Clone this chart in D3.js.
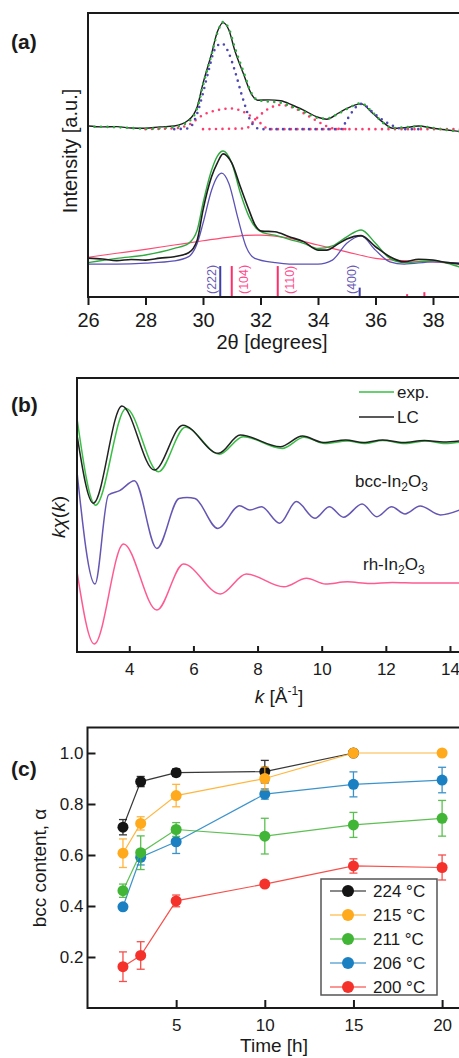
<!DOCTYPE html>
<html>
<head>
<meta charset="utf-8">
<script src="https://cdn.jsdelivr.net/npm/d3@7"></script>
<style>
body { margin: 0; background: #fff; }
svg text { font-family: "Liberation Sans", Arial, sans-serif; fill: #1a1a1a; }
</style>
</head>
<body>
<div id="chart-area"></div>
<script>
// ---------- (a) XRD, 2theta vs intensity (arb. units 0..100) ----------
const xrdTopExp = [[26,60.2],[26.5,59.9],[27,60.0],[27.5,59.5],[28,59.4],[28.5,59.9],[29,60.2],[29.5,62.3],[29.8,67.0],[30,75.2],[30.3,85.8],[30.5,93.4],[30.7,96.6],[30.9,94.0],[31.1,87.0],[31.4,78.8],[31.7,71.2],[31.9,69.3],[32.3,69.4],[32.7,69.1],[33.1,67.6],[33.5,65.8],[34,63.3],[34.3,62.6],[34.7,64.7],[35,66.4],[35.5,68.0],[35.9,64.7],[36.3,61.2],[36.6,59.4],[37,59.6],[37.5,60.2],[38,59.4],[38.5,58.8],[39,58.2]]
const xrdTopFit = [[26,60.0],[27,59.8],[28,59.3],[29,59.9],[29.5,61.8],[29.8,66.5],[30,74.5],[30.3,85.5],[30.5,93.0],[30.7,96.8],[30.9,94.5],[31.1,88.0],[31.4,79.5],[31.7,71.5],[31.9,69.4],[32.3,68.8],[32.7,68.4],[33.1,67.0],[33.5,65.3],[34,63.0],[34.3,62.8],[34.7,64.5],[35,66.2],[35.5,68.2],[35.9,65.0],[36.3,61.0],[36.6,59.5],[37,59.7],[37.5,60.1],[38,59.5],[38.5,58.8],[39,58.2]]
const xrdTopBcc = [[29,59.1],[29.5,59.4],[29.8,64.7],[30,71.8],[30.2,79.9],[30.4,87.0],[30.65,89.3],[30.9,85.8],[31.1,79.9],[31.4,69.4],[31.7,61.2],[32,59.1],[34.8,59.1],[35,62.3],[35.5,68.0],[36,64.2],[36.5,60.8],[37,59.1],[37.6,59.1]]
const xrdTopRh1 = [[28,59.1],[29,59.4],[29.5,60.6],[30,64.1],[30.5,65.8],[31,66.4],[31.5,64.7],[32,61.2],[32.3,59.1],[39,59.1]]
const xrdTopRh2 = [[30,59.1],[31.5,59.4],[31.8,62.3],[32.2,65.8],[32.7,67.6],[33.2,66.4],[33.7,63.5],[34.1,61.2],[34.5,59.4],[35,59.1]]
const xrdLowExp = [[26,13.7],[26.5,13.4],[27,12.8],[27.5,13.2],[28,13.0],[28.5,13.7],[29,14.2],[29.5,15.6],[29.8,20.1],[30,30.6],[30.3,42.4],[30.5,47.2],[30.7,50.4],[31,47.2],[31.3,38.8],[31.6,30.6],[31.8,25.6],[32.05,23.2],[32.5,23.0],[33,21.2],[33.5,19.5],[34,16.5],[34.3,16.5],[34.7,18.7],[35,20.4],[35.5,21.6],[36,17.7],[36.5,14.2],[37,12.4],[37.5,13.3],[38,13.0],[38.5,12.1],[39,11.6]]
const xrdLowLC = [[26,12.1],[27,13.6],[28,14.8],[29,17.1],[29.5,18.9],[29.8,23.6],[30,33.0],[30.3,44.7],[30.5,49.6],[30.7,51.4],[31,47.2],[31.3,36.6],[31.6,28.3],[31.85,24.2],[32.1,22.6],[32.5,21.8],[33,20.3],[33.5,18.9],[34,17.1],[34.5,18.0],[35,21.2],[35.5,23.6],[36,18.9],[36.5,13.6],[37,12.1],[37.5,12.4],[38,12.8],[38.5,11.9],[39,10.3]]
const xrdLowBcc = [[26,11.6],[27,11.6],[28,11.9],[29,12.7],[29.5,14.2],[29.8,18.9],[30,25.9],[30.3,37.7],[30.5,42.4],[30.65,43.6],[30.9,40.0],[31.2,28.3],[31.5,17.7],[31.8,13.6],[32.5,12.1],[33,11.6],[34,11.6],[34.5,13.0],[35,18.9],[35.5,21.5],[36,16.5],[36.5,12.4],[37,11.6],[38,12.4],[39,11.9]]
const xrdLowRh = [[26,14.0],[27,15.4],[28,16.8],[29,18.3],[30,19.8],[31,21.2],[31.5,21.7],[32,21.8],[33,20.7],[34,18.3],[35,15.9],[36,13.6],[37,12.8],[38,12.4],[39,11.6]]
// reflection sticks: position, height, phase, label
const refPos = [30.6, 31.0, 32.6, 35.45, 37.1, 37.7]
const refHeight = [10.9, 10.9, 10.9, 3.3, 1.0, 1.7]
const refPhase = ["bcc", "rh", "rh", "bcc", "rh", "rh"]
const refLabel = ["(222)", "(104)", "(110)", "(400)", "", ""]
const xTicksA = [26, 28, 30, 32, 34, 36, 38]

// ---------- (b) EXAFS, k vs k*chi (arb. units 0..100) ----------
const exafsExp = [[2.37,85.3],[2.95,53.6],[3.9,88.9],[4.91,65.8],[5.75,82.0],[6.81,72.2],[7.55,78.6],[8.77,74.3],[9.45,78.4],[10.1,76.1],[10.8,77.0],[11.35,76.1],[11.9,77.2],[12.6,76.1],[13.25,77.0],[13.85,76.1],[14.3,76.6]]
const exafsLC = [[2.37,79.2],[2.88,54.3],[3.77,89.8],[4.78,66.4],[5.67,82.8],[6.78,72.5],[7.46,79.2],[8.71,74.9],[9.4,78.8],[10.05,76.5],[10.75,77.4],[11.3,76.5],[11.9,77.4],[12.55,76.5],[13.2,77.2],[13.8,76.6],[14.3,77.0]]
const exafsBcc = [[2.37,65.8],[2.93,24.8],[3.35,57.3],[3.7,58.9],[4.16,62.5],[4.86,37.8],[5.55,56.0],[5.8,56.4],[6.05,56.0],[6.76,45.1],[7.44,53.4],[7.76,51.8],[8.12,53.0],[8.69,47.0],[9.21,54.9],[9.79,48.8],[10.24,53.0],[10.68,49.2],[11.26,54.0],[11.72,49.4],[12.18,53.0],[12.6,50.4],[13.07,53.3],[13.7,50.0],[14.3,51.8]]
const exafsRh = [[2.37,29.3],[2.91,2.9],[3.82,39.4],[4.86,15.3],[5.69,32.1],[6.84,21.2],[7.65,28.5],[8.82,23.8],[9.53,26.9],[10.12,24.8],[10.8,25.6],[11.5,25.0],[12.2,25.4],[13,25.2],[14.3,25.2]]
const xTicksB = [4, 6, 8, 10, 12, 14]

// ---------- (c) bcc content vs time ----------
const temps = ["224 °C", "215 °C", "211 °C", "206 °C", "200 °C"]
const colors = ["#141414", "#ffa91c", "#41b535", "#1a80c2", "#f5312c"]
const times = [2, 3, 5, 10, 15, 20]
const bcc224 = [0.709, 0.888, 0.923, 0.927, 1.0]
const err224 = [0.03, 0.02, 0.015, 0.044, 0]
const bcc215 = [0.607, 0.724, 0.833, 0.90, 1.0, 1.0]
const err215 = [0.056, 0.026, 0.044, 0.045, 0, 0]
const bcc211 = [0.46, 0.609, 0.70, 0.674, 0.718, 0.744]
const err211 = [0.026, 0.066, 0.027, 0.07, 0.049, 0.07]
const bcc206 = [0.397, 0.591, 0.652, 0.839, 0.877, 0.894]
const err206 = [0.004, 0.03, 0.046, 0.02, 0.049, 0.05]
const bcc200 = [0.162, 0.206, 0.42, 0.486, 0.557, 0.551]
const err200 = [0.058, 0.054, 0.023, 0.01, 0.028, 0.049]
const xTicksC = [5, 10, 15, 20]
const yTicksC = [0.2, 0.4, 0.6, 0.8, 1.0]

const svg = d3.select("#chart-area").append("svg")
    .attr("width", 459)
    .attr("height", 1058)
const defs = svg.append("defs")

function clip(id, x, y, w, h) {
    defs.append("clipPath").attr("id", id)
        .append("rect").attr("x", x).attr("y", y).attr("width", w).attr("height", h)
}

function styleAxis(g, size) {
    g.attr("font-size", null).attr("font-family", null)
    g.select(".domain").remove()
    g.selectAll(".tick line").attr("stroke", "#1a1a1a").attr("stroke-width", 2)
    g.selectAll(".tick text").attr("font-size", size).attr("fill", "#1a1a1a")
}

function frame(b) {
    svg.append("path")
        .attr("d", `M${b.right},${b.top}H${b.left}V${b.bottom}H${b.right}`)
        .attr("fill", "none").attr("stroke", "#1a1a1a").attr("stroke-width", 2)
}

// ================= (a) =================
const A = { left: 88, right: 462, top: 13, bottom: 297 }
const xA = d3.scaleLinear().domain([26, 39]).range([A.left, A.left + 13 * 28.75])
const yA = d3.scaleLinear().domain([0, 100]).range([A.bottom, A.top])
clip("clipA", A.left, A.top, A.right - A.left, A.bottom - A.top)
const gA = svg.append("g").attr("clip-path", "url(#clipA)")
const lineA = d3.line().x(d => xA(d[0])).y(d => yA(d[1])).curve(d3.curveMonotoneX)

gA.append("path").datum(xrdLowRh).attr("d", lineA)
    .attr("fill", "none").attr("stroke", "#ff4a72").attr("stroke-width", 1.2)
gA.append("path").datum(xrdLowBcc).attr("d", lineA)
    .attr("fill", "none").attr("stroke", "#5b52b6").attr("stroke-width", 1.3)
gA.append("path").datum(xrdLowLC).attr("d", lineA)
    .attr("fill", "none").attr("stroke", "#2eaa3e").attr("stroke-width", 1.4)
gA.append("path").datum(xrdLowExp).attr("d", lineA)
    .attr("fill", "none").attr("stroke", "#1e1e1e").attr("stroke-width", 1.6)

gA.append("path").datum(xrdTopExp).attr("d", lineA)
    .attr("fill", "none").attr("stroke", "#1e1e1e").attr("stroke-width", 1.4)
const dotted = [[xrdTopRh1, "#ff3c6e"], [xrdTopRh2, "#ff3c6e"], [xrdTopBcc, "#4e48b2"], [xrdTopFit, "#2eaa3e"]]
dotted.forEach(([data, col]) => {
    gA.append("path").datum(data).attr("d", lineA)
        .attr("fill", "none").attr("stroke", col).attr("stroke-width", 2.6)
        .attr("stroke-linecap", "round").attr("stroke-dasharray", "0 6.5")
})

// reflection sticks
const refs = refPos.map((p, i) => ({ pos: p, h: refHeight[i], phase: refPhase[i], label: refLabel[i] }))
gA.selectAll(".ref").data(refs).enter().append("line")
    .attr("x1", d => xA(d.pos)).attr("x2", d => xA(d.pos))
    .attr("y1", yA(0)).attr("y2", d => yA(d.h))
    .attr("stroke", d => d.phase === "bcc" ? "#3f3ea6" : "#ff2d6a")
    .attr("stroke-width", 2)
gA.selectAll(".refLabel").data(refs.filter(d => d.label)).enter().append("text")
    .attr("transform", d => {
        const off = d.phase === "bcc" ? -4 : 16
        return `translate(${xA(d.pos) + off},${A.bottom - 3}) rotate(-90)`
    })
    .attr("font-size", 12.5)
    .style("fill", d => d.phase === "bcc" ? "#6a5cb4" : "#ff4a8c")
    .text(d => d.label)

frame(A)
svg.append("g").attr("transform", `translate(0,${A.bottom})`)
    .call(d3.axisBottom(xA).tickValues(xTicksA).tickSizeOuter(0).tickSize(8).tickPadding(8))
    .call(g => styleAxis(g, 20))

svg.append("text").attr("x", 272).attr("y", 349).attr("text-anchor", "middle")
    .attr("font-size", 20).text("2θ [degrees]")
svg.append("text").attr("transform", "translate(77,151) rotate(-90)")
    .attr("text-anchor", "middle").attr("font-size", 20).text("Intensity [a.u.]")
svg.append("text").attr("x", 11).attr("y", 49).attr("font-size", 21)
    .attr("font-weight", "bold").text("(a)")

// ================= (b) =================
const B = { left: 77, right: 462, top: 378, bottom: 652 }
const xB = d3.scaleLinear().domain([2.37, 14.3]).range([B.left, B.left + 11.93 * 32.07])
const yB = d3.scaleLinear().domain([0, 100]).range([B.bottom, B.top])
clip("clipB", B.left, B.top, B.right - B.left, B.bottom - B.top)
const gB = svg.append("g").attr("clip-path", "url(#clipB)")
const lineB = d3.line().x(d => xB(d[0])).y(d => yB(d[1])).curve(d3.curveMonotoneX)

const exafsSeries = [[exafsRh, "#ff5a92"], [exafsBcc, "#6656b4"], [exafsExp, "#39bf45"], [exafsLC, "#222222"]]
exafsSeries.forEach(([data, col]) => {
    gB.append("path").datum(data).attr("d", lineB)
        .attr("fill", "none").attr("stroke", col).attr("stroke-width", 1.5)
})

frame(B)
svg.append("g").attr("transform", `translate(0,${B.bottom})`)
    .call(d3.axisBottom(xB).tickValues(xTicksB).tickSizeOuter(0).tickSizeInner(-6).tickPadding(11))
    .call(g => styleAxis(g, 17))

// legend (b)
const legB = [["exp.", "#39bf45", 392], ["LC", "#222222", 417]]
legB.forEach(([t, col, y]) => {
    svg.append("line").attr("x1", 359).attr("x2", 394).attr("y1", y).attr("y2", y)
        .attr("stroke", col).attr("stroke-width", 1.5)
    svg.append("text").attr("x", 397).attr("y", y + 6).attr("font-size", 17).text(t)
})
const phaseLabel = (x, y, pre) => {
    const t = svg.append("text").attr("x", x).attr("y", y).attr("font-size", 17)
    t.append("tspan").text(pre + "-In")
    t.append("tspan").attr("font-size", 12).attr("dy", 4).text("2")
    t.append("tspan").attr("dy", -4).text("O")
    t.append("tspan").attr("font-size", 12).attr("dy", 4).text("3")
}
phaseLabel(355, 487, "bcc")
phaseLabel(363, 570, "rh")

const xlB = svg.append("text").attr("x", 279).attr("y", 703).attr("text-anchor", "middle").attr("font-size", 19)
xlB.append("tspan").attr("font-style", "italic").text("k")
xlB.append("tspan").text(" [Å")
xlB.append("tspan").attr("font-size", 12).attr("dy", -8).text("-1")
xlB.append("tspan").attr("dy", 8).text("]")
const ylB = svg.append("text").attr("transform", "translate(65,517) rotate(-90)")
    .attr("text-anchor", "middle").attr("font-size", 19)
ylB.append("tspan").attr("font-style", "italic").text("kχ")
ylB.append("tspan").text("(")
ylB.append("tspan").attr("font-style", "italic").text("k")
ylB.append("tspan").text(")")
svg.append("text").attr("x", 11).attr("y", 412).attr("font-size", 21)
    .attr("font-weight", "bold").text("(b)")

// ================= (c) =================
const C = { left: 87.5, right: 462, top: 727.5, bottom: 1008 }
const xC = d3.scaleLinear().domain([0, 21]).range([C.left, C.left + 21 * 17.73])
const yC = d3.scaleLinear().domain([0, 1.1]).range([C.bottom, C.top])

frame(C)
svg.append("g").attr("transform", `translate(0,${C.bottom})`)
    .call(d3.axisBottom(xC).tickValues(xTicksC).tickSizeOuter(0).tickSizeInner(-8).tickPadding(11))
    .call(g => styleAxis(g, 17))
svg.append("g").attr("transform", `translate(${C.left},0)`)
    .call(d3.axisLeft(yC).tickValues(yTicksC).tickFormat(d3.format(".1f")).tickSizeOuter(0).tickSizeInner(-8).tickPadding(4))
    .call(g => styleAxis(g, 17))

const seriesC = [
    { name: temps[0], col: colors[0], v: bcc224, e: err224 },
    { name: temps[3], col: colors[3], v: bcc206, e: err206 },
    { name: temps[2], col: colors[2], v: bcc211, e: err211 },
    { name: temps[1], col: colors[1], v: bcc215, e: err215 },
    { name: temps[4], col: colors[4], v: bcc200, e: err200 }
]
const lineC = d3.line().x(d => xC(d.t)).y(d => yC(d.v))
seriesC.forEach(s => {
    const pts = s.v.map((v, i) => ({ t: times[i], v: v, e: s.e[i] }))
    const g = svg.append("g")
    g.append("path").datum(pts).attr("d", lineC)
        .attr("fill", "none").attr("stroke", s.col).attr("stroke-width", 1.2).attr("opacity", 0.85)
    const eb = g.selectAll(".eb").data(pts.filter(d => d.e > 0.008)).enter().append("g")
        .attr("stroke", s.col).attr("stroke-width", 1.3).attr("opacity", 0.85)
    eb.append("line").attr("x1", d => xC(d.t)).attr("x2", d => xC(d.t))
        .attr("y1", d => yC(d.v - d.e)).attr("y2", d => yC(d.v + d.e))
    eb.append("line").attr("x1", d => xC(d.t) - 4).attr("x2", d => xC(d.t) + 4)
        .attr("y1", d => yC(d.v - d.e)).attr("y2", d => yC(d.v - d.e))
    eb.append("line").attr("x1", d => xC(d.t) - 4).attr("x2", d => xC(d.t) + 4)
        .attr("y1", d => yC(d.v + d.e)).attr("y2", d => yC(d.v + d.e))
    g.selectAll("circle").data(pts).enter().append("circle")
        .attr("cx", d => xC(d.t)).attr("cy", d => yC(d.v)).attr("r", 5.5)
        .attr("fill", s.col)
})

// legend (c)
const legC = svg.append("g")
legC.append("rect").attr("x", 321).attr("y", 879).attr("width", 116).attr("height", 116)
    .attr("fill", "#fff").attr("stroke", "#555").attr("stroke-width", 1.5)
temps.forEach((t, i) => {
    const y = 891 + i * 24
    legC.append("line").attr("x1", 330).attr("x2", 366).attr("y1", y).attr("y2", y)
        .attr("stroke", colors[i]).attr("stroke-width", 1.2)
    legC.append("circle").attr("cx", 348).attr("cy", y).attr("r", 6).attr("fill", colors[i])
    legC.append("text").attr("x", 373).attr("y", y + 6).attr("font-size", 17).text(t)
})

svg.append("text").attr("x", 274).attr("y", 1052).attr("text-anchor", "middle")
    .attr("font-size", 19).text("Time [h]")
svg.append("text").attr("transform", "translate(46,868) rotate(-90)")
    .attr("text-anchor", "middle").attr("font-size", 19).text("bcc content, α")
svg.append("text").attr("x", 11).attr("y", 776).attr("font-size", 21)
    .attr("font-weight", "bold").text("(c)")
</script>
</body>
</html>
